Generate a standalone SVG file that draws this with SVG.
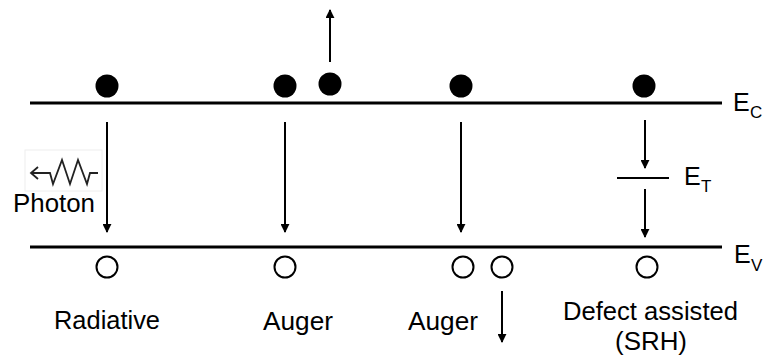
<svg xmlns="http://www.w3.org/2000/svg" width="767" height="356" viewBox="0 0 767 356">
<defs>
<marker id="ah" viewBox="0 0 10 10" refX="9" refY="5" markerWidth="4.5" markerHeight="4.5" orient="auto" markerUnits="strokeWidth">
<path d="M0,0 L10,5 L0,10 z" fill="#000"/>
</marker>
</defs>
<style>
.band{stroke:#000;stroke-width:3;fill:none}
.arr{stroke:#000;stroke-width:2;fill:none;marker-end:url(#ah)}
.e{fill:#000}
.h{fill:#fff;stroke:#000;stroke-width:2}
.t{font-family:"Liberation Sans",Arial,sans-serif;font-size:25px;fill:#000}
.lab{font-family:"Liberation Sans",Arial,sans-serif;font-size:25px;fill:#000}
.sub{font-family:"Liberation Sans",Arial,sans-serif;font-size:17px;fill:#000}
</style>
<rect width="767" height="356" fill="#fff"/>
<g id="bands">
<line class="band" x1="30" y1="103" x2="722" y2="103"/>
<line class="band" x1="30" y1="247" x2="722" y2="247"/>
<text class="lab" x="733" y="111">E</text><text class="sub" x="750" y="118">C</text>
<text class="lab" x="734" y="263">E</text><text class="sub" x="751" y="271">V</text>
</g>
<g id="radiative">
<circle class="e" cx="107" cy="86" r="11.5"/>
<circle class="h" cx="107" cy="267" r="10.5"/>
<rect x="25" y="150" width="77" height="41" fill="none" stroke="#eee" stroke-width="1"/>
<polyline points="98,173 90,173 87,184 78,160 70,184 62,160 53,184 50,173 31,173" fill="none" stroke="#222" stroke-width="1.8" stroke-linejoin="miter"/>
<polyline points="38,167 31,173 38,179" fill="none" stroke="#222" stroke-width="1.8"/>
<text class="t" x="13" y="212" textLength="82" lengthAdjust="spacingAndGlyphs">Photon</text>
<text class="t" x="54" y="329" textLength="106" lengthAdjust="spacingAndGlyphs">Radiative</text>
</g>
<g id="auger1">
<circle class="e" cx="285" cy="86" r="11.5"/>
<circle class="e" cx="330" cy="84" r="11.5"/>
<circle class="h" cx="285" cy="267" r="10.5"/>
<text class="t" x="263" y="330" textLength="70" lengthAdjust="spacingAndGlyphs">Auger</text>
</g>
<g id="auger2">
<circle class="e" cx="461" cy="86" r="11.5"/>
<circle class="h" cx="463" cy="267" r="10.5"/>
<circle class="h" cx="502" cy="267" r="10.5"/>
<text class="t" x="408" y="330" textLength="70" lengthAdjust="spacingAndGlyphs">Auger</text>
</g>
<g id="srh">
<circle class="e" cx="644" cy="86" r="11.5"/>
<circle class="h" cx="647" cy="267" r="10.5"/>
<line x1="617" y1="178" x2="669" y2="178" stroke="#000" stroke-width="2"/>
<text class="lab" x="684" y="185">E</text><text class="sub" x="701" y="192">T</text>
<text class="t" x="563" y="320" textLength="175" lengthAdjust="spacingAndGlyphs">Defect assisted</text>
<text class="t" x="615" y="350" textLength="72" lengthAdjust="spacingAndGlyphs">(SRH)</text>
</g>
<g id="connectors">
<line class="arr" x1="107" y1="122" x2="107" y2="232"/>
<line class="arr" x1="330" y1="62" x2="330" y2="10"/>
<line class="arr" x1="285" y1="122" x2="285" y2="232"/>
<line class="arr" x1="461" y1="122" x2="461" y2="232"/>
<line class="arr" x1="502" y1="291" x2="502" y2="342"/>
<line class="arr" x1="645" y1="120" x2="645" y2="168"/>
<line class="arr" x1="645" y1="189" x2="645" y2="237"/>
</g>
</svg>
